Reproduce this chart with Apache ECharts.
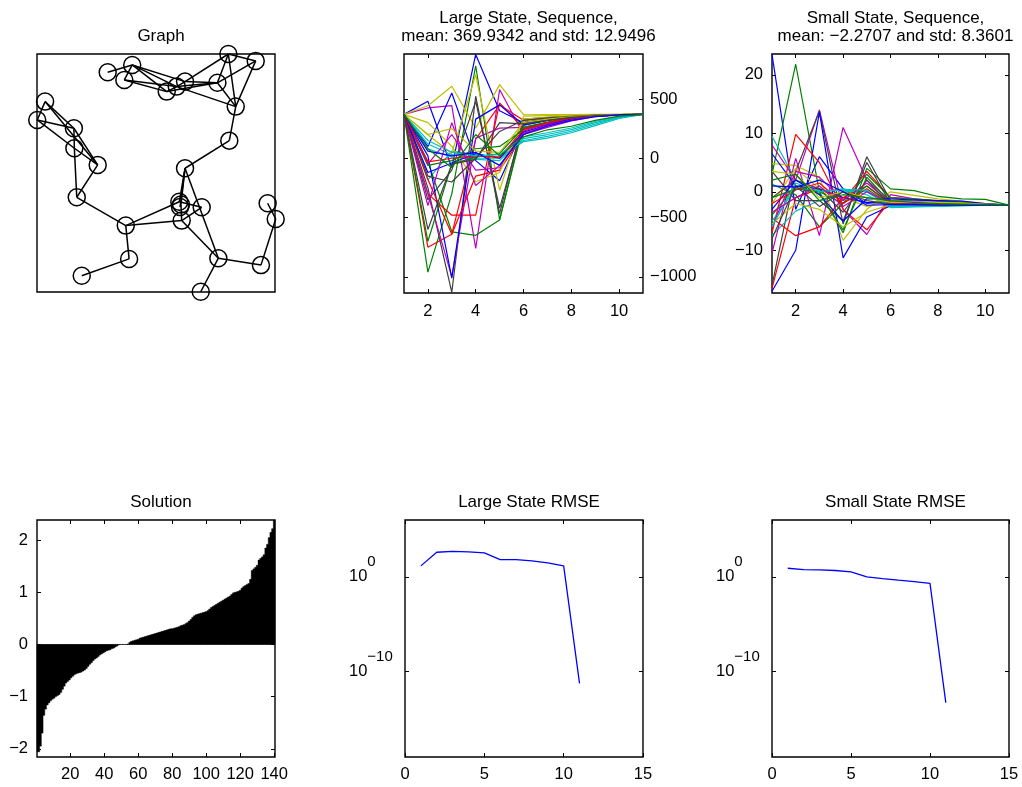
<!DOCTYPE html>
<html><head><meta charset="utf-8">
<script src="https://cdn.jsdelivr.net/npm/echarts@6/dist/echarts.min.js"></script>
<style>html,body{margin:0;padding:0;background:#fff}#c{width:1022px;height:787px}</style>
</head><body><div id="c"></div>
<script>
const FONT = '"Liberation Sans", Arial, Helvetica, sans-serif';
const FS = 16.5;
const TFS = 17;

const panelTitles = [
  'Graph',
  'Large State, Sequence,\nmean: 369.9342 and std: 12.9496',
  'Small State, Sequence,\nmean: \u22122.2707 and std: 8.3601',
  'Solution',
  'Large State RMSE',
  'Small State RMSE'
];

// Graph nodes in normalized [0,1] coordinates of the graph axes
const graphNodes = [
  [0.804, 1.000], [0.919, 0.971], [0.297, 0.923], [0.400, 0.954], [0.367, 0.891],
  [0.545, 0.842], [0.587, 0.863], [0.622, 0.884], [0.758, 0.879], [0.835, 0.779],
  [0.034, 0.800], [0.001, 0.723], [0.155, 0.688], [0.157, 0.604], [0.255, 0.534],
  [0.808, 0.636], [0.622, 0.520], [0.167, 0.398], [0.598, 0.379], [0.605, 0.368],
  [0.601, 0.357], [0.692, 0.356], [0.608, 0.300], [0.969, 0.373], [1.003, 0.307],
  [0.373, 0.279], [0.387, 0.139], [0.762, 0.142], [0.941, 0.113], [0.188, 0.068],
  [0.688, 0.001]
];
const graphEdges = [
  [2,3],[3,4],[3,5],[3,6],[3,7],[4,6],[4,5],[5,6],[6,7],[6,8],[7,8],[5,8],
  [7,0],[8,0],[0,1],[0,9],[1,8],[1,9],[8,9],[6,9],[9,15],[15,16],
  [10,11],[10,12],[10,14],[11,12],[11,13],[12,13],[12,14],[13,14],[13,17],[14,17],
  [17,25],[25,18],[25,22],[25,26],[26,29],[16,18],[16,19],[16,20],[16,27],
  [18,21],[19,22],[21,22],[22,27],[27,30],[27,28],[28,24],[23,24]
];

const seqSteps = [1,2,3,4,5,6,7,8,9,10,11];
const matlabColors = ['#0000ff','#008000','#ff0000','#00bfbf','#bf00bf','#bfbf00','#404040'];

const largeStateLines = [
  [370, 480, -80, 875, 400, 300, 330, 350, 362, 368, 370],
  [370, -960, -300, 780, -520, 300, 330, 350, 362, 368, 370],
  [370, -750, -640, 160, 450, 320, 340, 355, 364, 368, 370],
  [370, -180, 60, 30, 10, 140, 170, 215, 275, 335, 370],
  [370, 424, 443, -760, 579, 200, 260, 315, 350, 365, 370],
  [370, 443, 607, 254, 621, 367, 368, 369, 370, 370, 370],
  [370, -250, -1130, 523, -466, 330, 345, 355, 364, 368, 370],
  [370, 100, 550, -20, -190, 250, 300, 340, 360, 367, 370],
  [370, -30, -620, -650, -520, 280, 320, 345, 360, 367, 370],
  [370, -300, -480, -480, 466, 250, 300, 340, 358, 367, 370],
  [370, 120, 30, 0, 0, 150, 185, 228, 288, 342, 370],
  [370, -300, -1000, 170, 254, 260, 300, 340, 358, 367, 370],
  [370, 198, 40, 706, -270, 355, 360, 365, 368, 370, 370],
  [370, -350, -100, 480, -420, 300, 330, 350, 362, 368, 370],
  [370, 20, -1010, 330, 450, 280, 320, 345, 360, 367, 370],
  [370, -60, -20, 80, 100, 240, 290, 335, 356, 366, 370],
  [370, -180, -640, -150, -100, 200, 280, 330, 356, 366, 370],
  [370, 80, 10, -10, -20, 165, 200, 242, 300, 347, 370],
  [370, -50, 200, -100, -80, 230, 290, 335, 356, 366, 370],
  [370, 300, 100, -198, -120, 330, 345, 355, 364, 368, 370],
  [370, -150, -200, 0, 226, 320, 340, 352, 363, 368, 370],
  [370, -120, -40, 40, 0, 220, 280, 330, 355, 366, 370],
  [370, -700, -50, 10, 40, 260, 305, 340, 358, 367, 370],
  [370, -30, 0, 20, 10, 240, 300, 340, 358, 367, 370],
  [370, 150, 50, 20, 30, 180, 215, 255, 310, 352, 370],
  [370, -400, 300, -230, -60, 210, 275, 325, 354, 366, 370],
  [370, 200, 250, 60, 50, 300, 330, 350, 362, 368, 370],
  [370, -600, -50, -10, 300, 290, 320, 345, 360, 367, 370],
  [370, 60, 20, 50, -60, 200, 270, 320, 350, 365, 370],
  [370, 80, -80, 200, 20, 180, 240, 270, 320, 355, 370]
];

const smallStateLines = [
  [23.5, -3, 6, 0.5, -2, -1.5, -1.6, -1.5, -1.8, -2.1, -2.27],
  [3, 21.8, 0, -7, 4, 0.5, 0.2, -0.8, -1.2, -1.3, -2.27],
  [-16.5, -1, 0.5, -1.5, 3.5, -1, -1.3, -1.6, -1.9, -2.1, -2.27],
  [9.5, 2, 0, 0.5, -0.5, -2.7, -2.6, -2.5, -2.4, -2.3, -2.27],
  [8, 2, 14, -3, -7.3, -0.5, -1.2, -1.6, -1.9, -2.1, -2.27],
  [4.8, 4.5, 2.5, -8.3, -3, 0, -0.6, -1.2, -1.6, -2, -2.27],
  [-16, 3.5, 13.8, -5.5, 6, -1.5, -1.8, -2, -2.1, -2.2, -2.27],
  [-17, -10, 13.6, -11.3, -4.3, -2.4, -2.3, -2.2, -2.2, -2.2, -2.27],
  [1.3, -0.5, -6, -2, 3, -1, -1.2, -1.5, -1.8, -2.1, -2.27],
  [-7, 9.8, 5, -3, -6.5, -1.5, -1.8, -2, -2.1, -2.2, -2.27],
  [-7.5, -3.3, -1.5, 0, 0.2, -2.5, -2.5, -2.4, -2.3, -2.3, -2.27],
  [-10.5, 5.7, -7.5, 11, 2, -1.5, -1.8, -2, -2.1, -2.2, -2.27],
  [-2, 4, 0.5, -1, -2.5, -1.5, -1.7, -1.8, -1.9, -2, -2.27],
  [3.5, -1.5, -1.5, -5, 5, -2, -2.1, -2.2, -2.2, -2.2, -2.27],
  [6.5, 1, 0.5, -1, -1.8, -2, -2.1, -2.2, -2.2, -2.2, -2.27],
  [-4, 1, -0.3, -6.5, 2.5, -1.8, -2, -2.1, -2.2, -2.2, -2.27],
  [-4.5, -7.5, -6, -1, 1, -2, -2.1, -2.2, -2.2, -2.2, -2.27],
  [-5, 0.5, 0.3, 0.2, 0, -2.6, -2.5, -2.4, -2.3, -2.3, -2.27],
  [-6, 3.5, 2.5, -1.5, 1.5, -1.8, -2, -2.1, -2.2, -2.2, -2.27],
  [-5.5, -2, -3, -6, -3.5, -2.2, -2.2, -2.2, -2.2, -2.2, -2.27],
  [-1, 2, 0.5, -3.5, 2, -2.3, -2.3, -2.3, -2.3, -2.3, -2.27],
  [-3, 2, -0.5, -5, -1.2, -1.2, -1.4, -1.5, -1.6, -2, -2.27],
  [-1, 0.5, 0, -2, 1, -2.2, -2.3, -2.3, -2.3, -2.3, -2.27],
  [-2, 0.3, 1.5, -2, 0.5, -2.3, -2.3, -2.3, -2.3, -2.3, -2.27],
  [-6, 1.5, 0, 0.4, 0.3, -2.4, -2.4, -2.4, -2.3, -2.3, -2.27],
  [-3.5, -1, 1, -2.5, 0, -2, -2.1, -2.2, -2.2, -2.2, -2.27],
  [3.5, 3, -1, 0, -1, -1.8, -1.8, -1.9, -2, -2.1, -2.27],
  [-8, 1, -2.5, 0, -1.5, -2.1, -2.2, -2.2, -2.2, -2.2, -2.27],
  [1, 0.8, 2, 0, -2.3, -2.2, -2.2, -2.3, -2.3, -2.3, -2.27],
  [2, 3, -1.5, -0.5, -1, -1.5, -1.8, -2, -2.1, -2.2, -2.27]
];

const solutionValues = [
  -2.06, -1.95, -1.70, -1.36, -1.24, -1.16, -1.12, -1.08, -1.05, -1.03,
  -1.00, -0.98, -0.96, -0.92, -0.86, -0.80, -0.74, -0.71, -0.68, -0.64,
  -0.61, -0.58, -0.56, -0.55, -0.54, -0.53, -0.51, -0.49, -0.46, -0.42,
  -0.38, -0.35, -0.31, -0.28, -0.26, -0.23, -0.20, -0.18, -0.16, -0.14,
  -0.12, -0.11, -0.10, -0.08, -0.07, -0.05, -0.03, -0.01, 0, 0,
  0, 0, 0, 0.01, 0.04, 0.06, 0.07, 0.08, 0.09, 0.10,
  0.12, 0.13, 0.14, 0.15, 0.16, 0.17, 0.18, 0.19, 0.20, 0.21,
  0.22, 0.23, 0.24, 0.25, 0.26, 0.27, 0.28, 0.29, 0.30, 0.30,
  0.31, 0.32, 0.33, 0.34, 0.36, 0.37, 0.38, 0.40, 0.42, 0.45,
  0.48, 0.52, 0.55, 0.57, 0.58, 0.59, 0.60, 0.61, 0.62, 0.63,
  0.65, 0.68, 0.71, 0.73, 0.75, 0.77, 0.79, 0.81, 0.83, 0.85,
  0.87, 0.89, 0.91, 0.93, 0.96, 0.99, 1.00, 1.01, 1.02, 1.04,
  1.08, 1.11, 1.13, 1.15, 1.17, 1.25, 1.42, 1.45, 1.48, 1.52,
  1.62, 1.65, 1.68, 1.72, 1.85, 1.92, 2.05, 2.15, 2.22, 2.38
];

const rmseSteps = [1,2,3,4,5,6,7,8,9,10,11];
const largeRmse = [14.5, 398, 501, 427, 339, 66, 66, 48, 30, 14.5, 5.9e-12];
const smallRmse = [8.1, 5.9, 5.5, 4.7, 3.4, 1.0, 0.66, 0.45, 0.32, 0.21, 5.5e-14];

const seqTicksX = [2,4,6,8,10];
const largeTicksY = [-1000,-500,0,500];
const smallTicksY = [-10,0,10,20];
const solTicksX = [20,40,60,80,100,120,140];
const solTicksY = [-2,-1,0,1,2];
const rmseTicksX = [0,5,10,15];
const rmseTicksY = [1e-10, 1];

const minus = v => String(v).replace('-', '\u2212');
const logLabel = v => {
  const e = Math.round(Math.log10(v));
  return '{b|10}{s|' + minus(e) + '}';
};

const grids = [
  {left:37, top:54, width:238, height:238},
  {left:404, top:54, width:239, height:239},
  {left:772, top:54, width:237, height:239},
  {left:37, top:520, width:238, height:237},
  {left:405, top:520, width:238, height:237},
  {left:772, top:520, width:237, height:237}
].map(g => Object.assign(g, {show:true, borderColor:'#000', borderWidth:1.4, backgroundColor:'#fff', containLabel:false}));

const tickStyle = ticks => ({show:true, inside:true, length:4, customValues:ticks, lineStyle:{color:'#000', width:1}});
const labelStyle = (ticks, margin, show) => ({show:show, customValues:ticks, color:'#000', fontFamily:FONT, fontSize:FS, margin:margin, formatter: v => minus(v)});

function ax(gi, pos, min, max, ticks, margin) {
  return {
    type:'value', gridIndex:gi, position:pos, min:min, max:max,
    axisLine:{show:false, onZero:false}, splitLine:{show:false},
    axisTick:tickStyle(ticks),
    axisLabel:labelStyle(ticks, margin || 8, margin != null)
  };
}

const richLog = {
  b:{fontSize:FS, fontFamily:FONT, color:'#000', lineHeight:18},
  s:{fontSize:15, fontFamily:FONT, color:'#000', lineHeight:18, padding:[0,0,30,0]}
};
function logAx(gi, pos, labels) {
  return {
    type:'log', logBase:10, gridIndex:gi, position:pos, min:1e-19, max:1e6,
    axisLine:{show:false, onZero:false}, splitLine:{show:false}, minorTick:{show:false},
    axisTick:tickStyle(rmseTicksY),
    axisLabel:{show:labels, customValues:rmseTicksY, align:'left', margin:56, formatter:logLabel, rich:richLog}
  };
}

const xAxis = [
  {type:'value', gridIndex:0, min:0, max:1, show:false, axisLine:{onZero:false}},
  ax(1,'bottom',1,11,seqTicksX,10),
  ax(1,'top',1,11,seqTicksX),
  ax(2,'bottom',1,11,seqTicksX,10),
  ax(2,'top',1,11,seqTicksX),
  ax(3,'bottom',0.5,140.5,solTicksX,9),
  ax(3,'top',0.5,140.5,solTicksX),
  ax(4,'bottom',0,15,rmseTicksX,9),
  ax(4,'top',0,15,rmseTicksX),
  ax(5,'bottom',0,15,rmseTicksX,9),
  ax(5,'top',0,15,rmseTicksX)
];
const yAxis = [
  {type:'value', gridIndex:0, min:0, max:1, show:false, axisLine:{onZero:false}},
  ax(1,'right',-1136,879,largeTicksY,7),
  ax(1,'left',-1136,879,largeTicksY),
  ax(2,'left',-17.3,23.55,smallTicksY,9),
  ax(2,'right',-17.3,23.55,smallTicksY),
  ax(3,'left',-2.158,2.387,solTicksY,9),
  ax(3,'right',-2.158,2.387,solTicksY),
  logAx(4,'left',true),
  logAx(4,'right',false),
  logAx(5,'left',true),
  logAx(5,'right',false)
];

const series = [];
series.push({
  type:'graph', coordinateSystem:'cartesian2d', xAxisIndex:0, yAxisIndex:0, silent:true,
  symbol:'circle', symbolSize:17,
  itemStyle:{color:'rgba(0,0,0,0)', borderColor:'#000', borderWidth:1.5},
  lineStyle:{color:'#000', width:1.5, opacity:1, curveness:0},
  data:graphNodes.map(p => ({value:p})),
  links:graphEdges.map(e => ({source:e[0], target:e[1]})),
  label:{show:false}
});
largeStateLines.forEach((arr, i) => series.push({
  type:'line', xAxisIndex:1, yAxisIndex:1, showSymbol:false, silent:true,
  lineStyle:{width:1.2, color:matlabColors[i % 7]},
  data:arr.map((v,k) => [seqSteps[k], v])
}));
smallStateLines.forEach((arr, i) => series.push({
  type:'line', xAxisIndex:3, yAxisIndex:3, showSymbol:false, silent:true,
  lineStyle:{width:1.2, color:matlabColors[i % 7]},
  data:arr.map((v,k) => [seqSteps[k], v])
}));
// Solution: unit-width bars drawn through the axis scales
series.push({
  type:'custom', xAxisIndex:5, yAxisIndex:5, silent:true,
  data:solutionValues.map((v,i) => [i + 1, v]),
  renderItem:(params, api) => {
    const x = api.value(0), v = api.value(1);
    const a = api.coord([x - 0.5, 0]);
    const b = api.coord([x + 0.5, v]);
    const right = Math.min(b[0] + 1, api.coord([140.5, 0])[0]);
    return {
      type:'rect',
      shape:{x:a[0], y:Math.min(a[1], b[1]), width:right - a[0], height:Math.max(Math.abs(b[1] - a[1]), 0.01)},
      style:{fill:'#000', stroke:'#000', lineWidth:0.4}
    };
  }
});
series.push({
  type:'line', xAxisIndex:7, yAxisIndex:7, showSymbol:false, silent:true,
  lineStyle:{width:1.3, color:'#0000ff'},
  data:largeRmse.map((v,k) => [rmseSteps[k], v])
});
series.push({
  type:'line', xAxisIndex:9, yAxisIndex:9, showSymbol:false, silent:true,
  lineStyle:{width:1.3, color:'#0000ff'},
  data:smallRmse.map((v,k) => [rmseSteps[k], v])
});

const centers = [156, 523.5, 890.5, 156, 524, 890.5];
const title = panelTitles.map((t, i) => ({
  text:t, left:centers[i], textAlign:'center',
  top: i === 0 ? 22 : (i < 3 ? 4 : 488),
  textStyle:{fontFamily:FONT, fontSize:TFS, fontWeight:'normal', color:'#000', lineHeight:18}
}));

const chart = echarts.init(document.getElementById('c'), null, {renderer:'canvas'});
chart.setOption({animation:false, backgroundColor:'#fff', title, grid:grids, xAxis, yAxis, series});
</script></body></html>
